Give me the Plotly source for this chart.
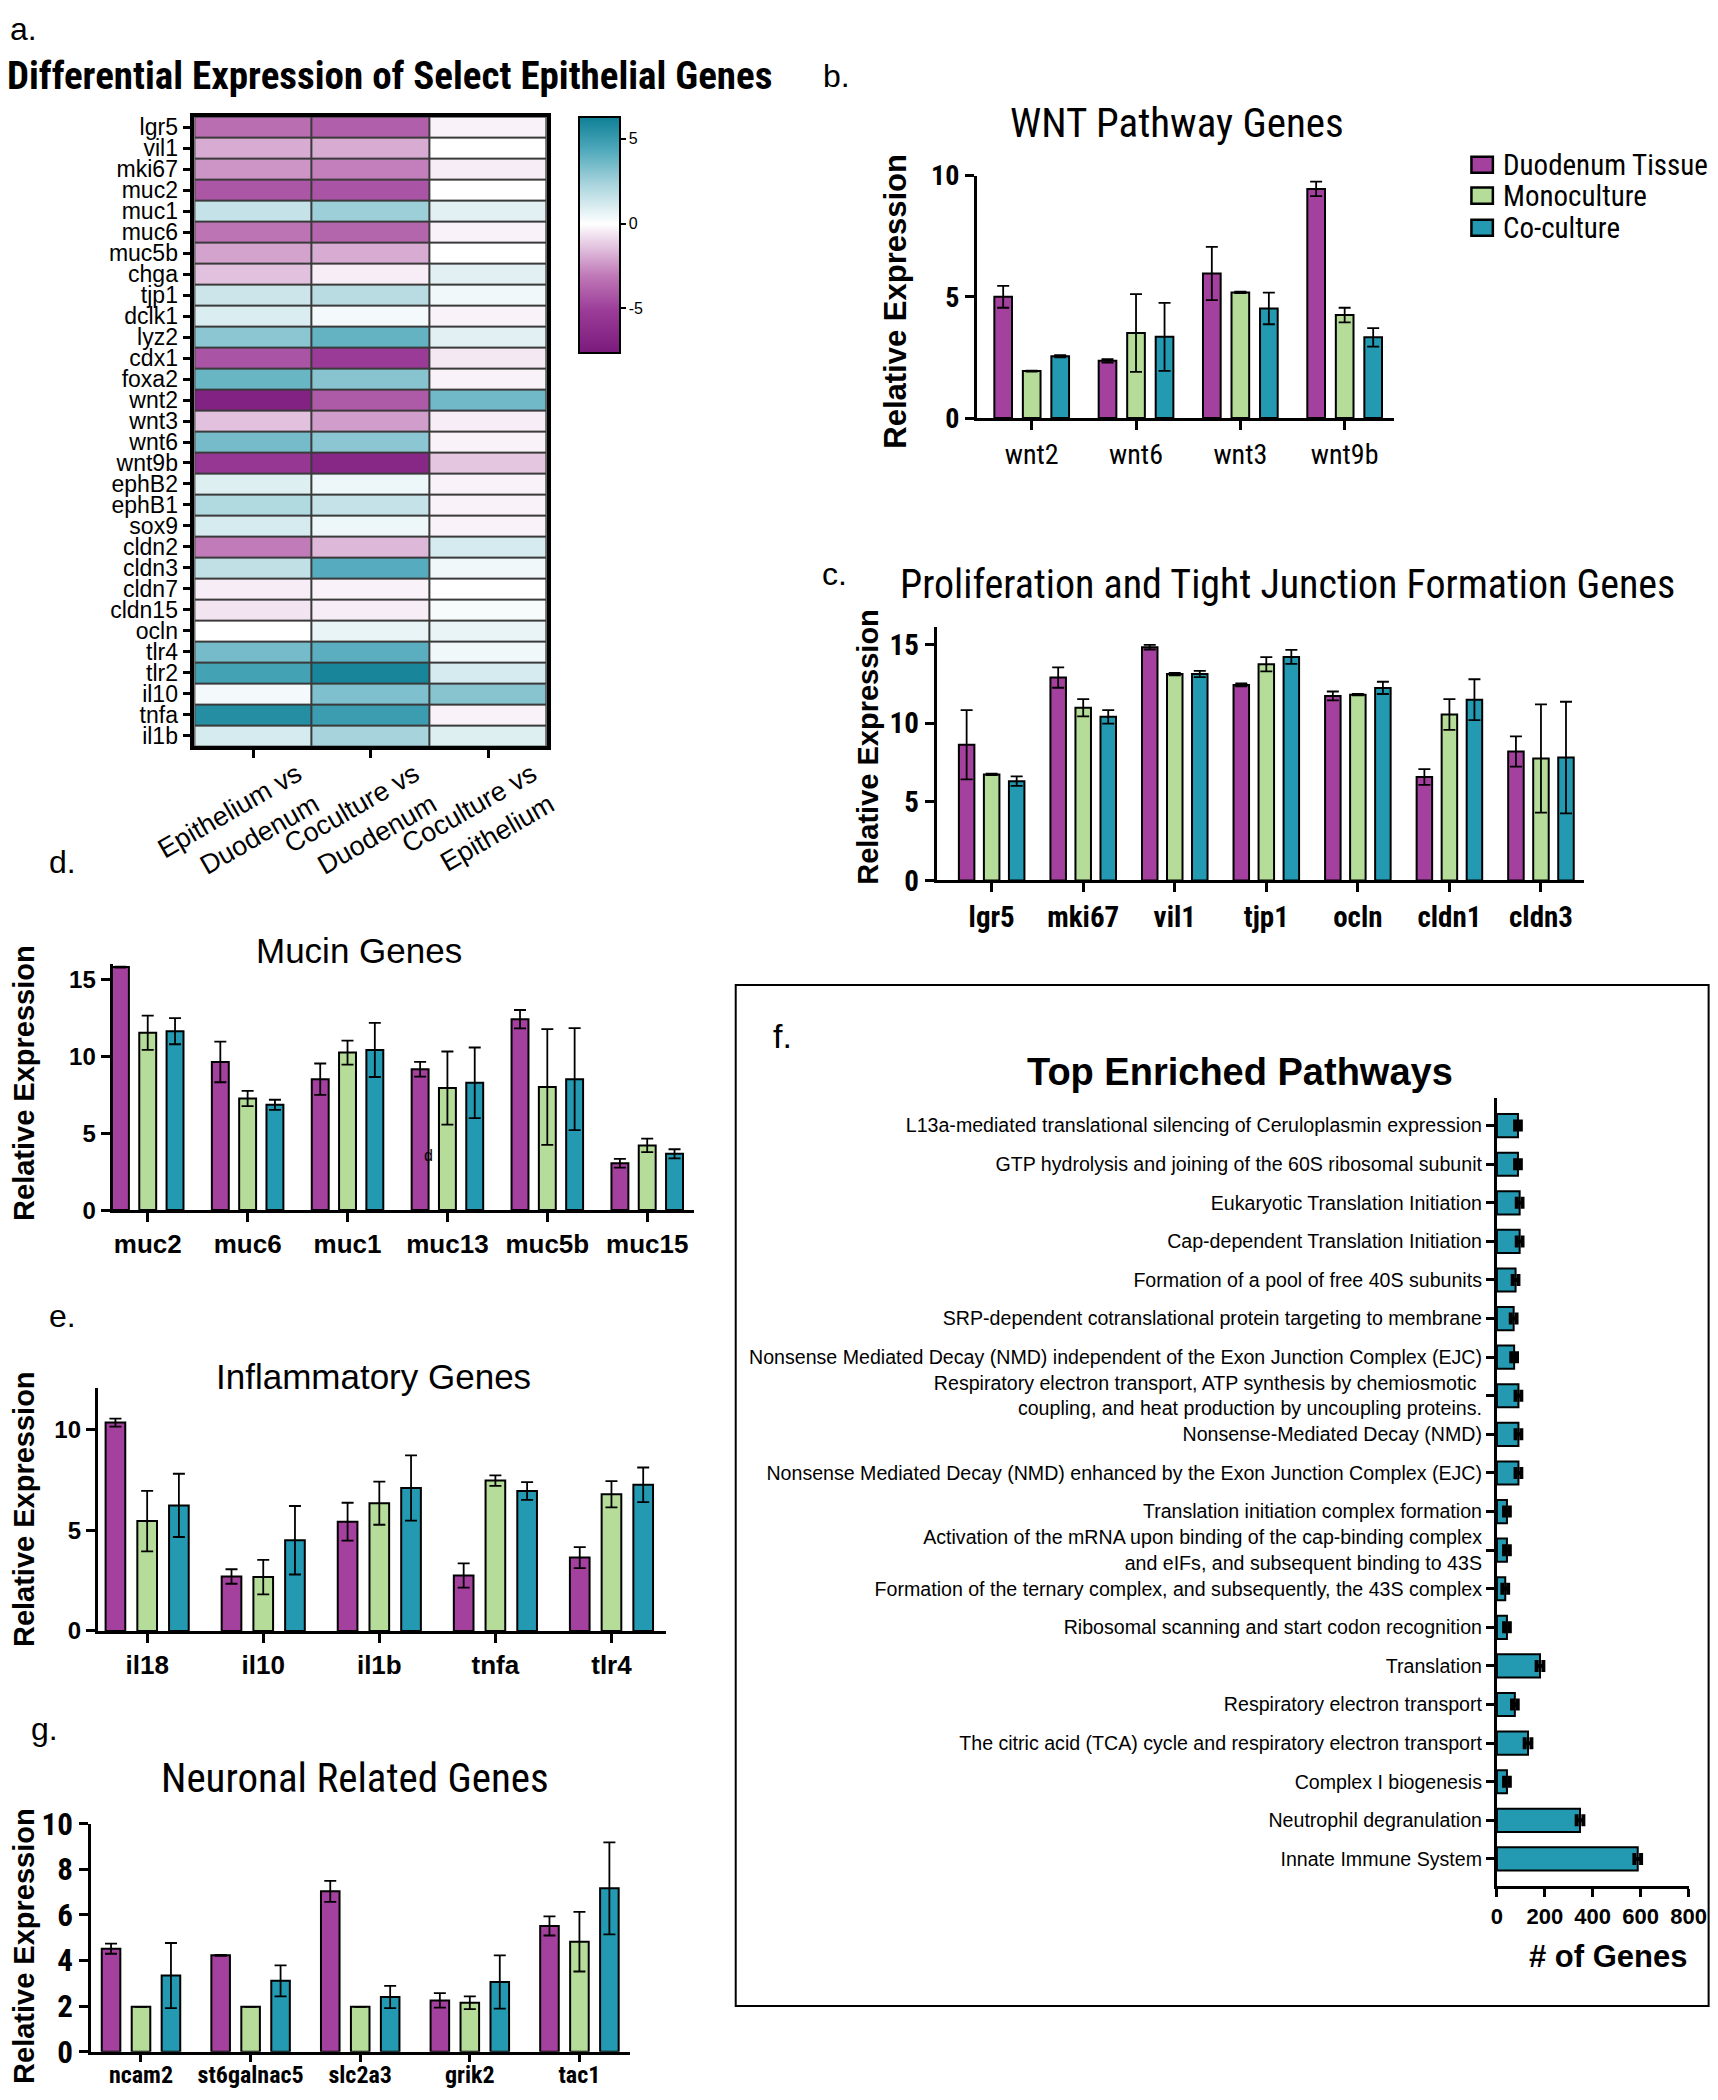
import plotly.graph_objects as go

# reference-image coordinates (1282x1568 view) are mapped to the 1718x2100 page;
# the page body adds an 8px margin, so the figure is shifted/shrunk by that amount
S = 1718 / 1282.0
OFF = 8
FW, FH = 1710, 2084


def px(x):
    return (x * S - OFF) / FW


def py(y):
    return 1 - (y * S - OFF) / FH


NARROW = "Liberation Sans Narrow, Arial Narrow, Roboto Condensed, Liberation Sans, sans-serif"
ARIAL = "Liberation Sans, Arial, Helvetica, sans-serif"

# ---------------- data ----------------
series_names = ["Duodenum Tissue", "Monoculture", "Co-culture"]
series_colors = ["#a4409e", "#b5dc98", "#2399b2"]

# (a) heatmap
heat_genes = ["lgr5", "vil1", "mki67", "muc2", "muc1", "muc6", "muc5b", "chga", "tjp1", "dclk1",
              "lyz2", "cdx1", "foxa2", "wnt2", "wnt3", "wnt6", "wnt9b", "ephB2", "ephB1", "sox9",
              "cldn2", "cldn3", "cldn7", "cldn15", "ocln", "tlr4", "tlr2", "il10", "tnfa", "il1b"]
heat_comparisons = ["Epithelium vs<br>Duodenum", "Coculture vs<br>Duodenum", "Coculture vs<br>Epithelium"]
epi_vs_duo = [-3.4, -1.9, -2.4, -4.2, 1.6, -3.2, -2.1, -1.4, 1.4, 1.0,
              3.0, -4.3, 3.8, -7.0, -1.4, 3.5, -5.5, 0.9, 2.1, 1.1,
              -3.0, 1.7, -0.4, -0.6, 0.0, 3.5, 4.7, 0.3, 5.6, 1.1]
co_vs_duo = [-3.9, -1.9, -2.9, -4.3, 2.6, -3.7, -1.9, -0.4, 1.9, 0.3,
             3.9, -5.2, 3.1, -4.1, -2.2, 3.0, -6.6, 0.5, 1.6, 0.5,
             -1.6, 4.2, -0.3, -0.4, 0.6, 4.1, 6.0, 3.3, 4.9, 2.4]
co_vs_epi = [-0.3, 0.0, -0.4, 0.0, 0.8, -0.3, 0.0, 0.8, 0.4, -0.3,
             0.8, -0.5, -0.3, 3.6, -0.4, -0.3, -1.3, -0.3, -0.3, -0.3,
             1.1, 0.4, 0.0, 0.2, 0.6, 0.4, 1.1, 3.1, -0.3, 0.9]
heat_ticks = [-5, 0, 5]

# (b) WNT pathway genes
wnt_genes = ["wnt2", "wnt6", "wnt3", "wnt9b"]
wnt_duo = [5.0, 2.36, 5.96, 9.45]
wnt_duo_err = [0.45, 0.07, 1.1, 0.3]
wnt_mono = [1.94, 3.51, 5.18, 4.25]
wnt_mono_err = [0.02, 1.6, 0.03, 0.3]
wnt_co = [2.55, 3.35, 4.52, 3.33]
wnt_co_err = [0.05, 1.4, 0.65, 0.38]

# (c) proliferation & tight junction genes
prolif_genes = ["lgr5", "mki67", "vil1", "tjp1", "ocln", "cldn1", "cldn3"]
prolif_duo = [8.62, 12.9, 14.83, 12.43, 11.73, 6.57, 8.2]
prolif_duo_err = [2.2, 0.65, 0.15, 0.1, 0.28, 0.5, 0.96]
prolif_mono = [6.74, 10.98, 13.12, 13.74, 11.81, 10.55, 7.75]
prolif_mono_err = [0.05, 0.55, 0.08, 0.45, 0.05, 0.98, 3.44]
prolif_co = [6.31, 10.4, 13.12, 14.21, 12.24, 11.49, 7.81]
prolif_co_err = [0.3, 0.43, 0.2, 0.45, 0.39, 1.3, 3.55]

# (d) mucin genes
mucin_genes = ["muc2", "muc6", "muc1", "muc13", "muc5b", "muc15"]
mucin_duo = [15.81, 9.64, 8.52, 9.16, 12.42, 3.05]
mucin_duo_err = [0.03, 1.32, 1.02, 0.48, 0.6, 0.28]
mucin_mono = [11.54, 7.26, 10.25, 7.94, 8.01, 4.21]
mucin_mono_err = [1.12, 0.5, 0.78, 2.38, 3.77, 0.44]
mucin_co = [11.64, 6.85, 10.42, 8.28, 8.52, 3.66]
mucin_co_err = [0.85, 0.33, 1.76, 2.3, 3.32, 0.3]

# (e) inflammatory genes
inflam_genes = ["il18", "il10", "il1b", "tnfa", "tlr4"]
inflam_duo = [10.34, 2.7, 5.42, 2.75, 3.64]
inflam_duo_err = [0.2, 0.36, 0.94, 0.6, 0.52]
inflam_mono = [5.45, 2.67, 6.34, 7.46, 6.78]
inflam_mono_err = [1.5, 0.86, 1.07, 0.26, 0.65]
inflam_co = [6.23, 4.5, 7.09, 6.94, 7.25]
inflam_co_err = [1.57, 1.7, 1.62, 0.44, 0.86]

# (g) neuronal related genes
neuro_genes = ["ncam2", "st6galnac5", "slc2a3", "grik2", "tac1"]
neuro_duo = [4.52, 4.23, 7.04, 2.25, 5.52]
neuro_duo_err = [0.22, 0.02, 0.46, 0.32, 0.42]
neuro_mono = [1.97, 1.97, 1.97, 2.15, 4.83]
neuro_mono_err = [0.0, 0.0, 0.0, 0.28, 1.31]
neuro_co = [3.34, 3.11, 2.4, 3.06, 7.17]
neuro_co_err = [1.43, 0.68, 0.49, 1.17, 2.02]

# (f) top enriched pathways (top to bottom)
pathways = [
    "L13a-mediated translational silencing of Ceruloplasmin expression",
    "GTP hydrolysis and joining of the 60S ribosomal subunit",
    "Eukaryotic Translation Initiation",
    "Cap-dependent Translation Initiation",
    "Formation of a pool of free 40S subunits",
    "SRP-dependent cotranslational protein targeting to membrane",
    "Nonsense Mediated Decay (NMD) independent of the Exon Junction Complex (EJC)",
    "Respiratory electron transport, ATP synthesis by chemiosmotic <br>coupling, and heat production by uncoupling proteins.",
    "Nonsense-Mediated Decay (NMD)",
    "Nonsense Mediated Decay (NMD) enhanced by the Exon Junction Complex (EJC)",
    "Translation initiation complex formation",
    "Activation of the mRNA upon binding of the cap-binding complex<br>and eIFs, and subsequent binding to 43S",
    "Formation of the ternary complex, and subsequently, the 43S complex",
    "Ribosomal scanning and start codon recognition",
    "Translation",
    "Respiratory electron transport",
    "The citric acid (TCA) cycle and respiratory electron transport",
    "Complex I biogenesis",
    "Neutrophil degranulation",
    "Innate Immune System",
]
pathway_genes = [88, 88, 95, 95, 78, 70, 72, 90, 90, 90, 42, 42, 35, 42, 180, 75, 130, 42, 347, 588]
pathway_err = [12, 12, 12, 12, 12, 12, 12, 12, 12, 12, 12, 12, 12, 12, 14, 12, 14, 12, 14, 14]

# ---------------- figure ----------------
fig = go.Figure()

AX = dict(showline=True, linecolor="black", linewidth=3, ticks="outside", ticklen=9,
          tickwidth=3, tickcolor="black", showgrid=False, zeroline=False, automargin=False)

# (a) heatmap
z = [[a, b, c] for a, b, c in zip(epi_vs_duo, co_vs_duo, co_vs_epi)]
colorscale = [
    [0.0, "#7a1a7c"],
    [0.18, "#9b3c98"],
    [0.33, "#c07ab8"],
    [0.547, "#ffffff"],
    [0.72, "#a6d3dc"],
    [0.86, "#4fa9bb"],
    [1.0, "#0e7f95"],
]
fig.add_trace(go.Heatmap(
    z=z, x=heat_comparisons, y=heat_genes, colorscale=colorscale, zmin=-7.6, zmax=6.3,
    xgap=2, ygap=2, xaxis="x", yaxis="y",
    colorbar=dict(x=px(432), xanchor="left", y=py(87), yanchor="top", len=176 * S / FH,
                  lenmode="fraction", thickness=41, outlinewidth=2, outlinecolor="black",
                  tickvals=heat_ticks, ticktext=[str(t) for t in heat_ticks], ticks="outside",
                  ticklen=5, tickwidth=2, tickcolor="black", xpad=0, ypad=0,
                  tickfont=dict(family=ARIAL, size=16, color="black")),
))
fig.add_shape(type="rect", xref="x domain", yref="y domain", x0=0, x1=1, y0=0, y1=1,
              fillcolor="#3a3a3a", line=dict(width=0), layer="below")


def add_group_panel(n, cats, groups):
    for name, color, (vals, errs) in zip(series_names, series_colors, groups):
        fig.add_trace(go.Bar(
            x=cats, y=vals, name=name, showlegend=False,
            marker=dict(color=color, line=dict(color="black", width=2)),
            error_y=dict(type="data", array=errs, visible=True, color="black", thickness=1.8, width=6),
            xaxis=f"x{n}", yaxis=f"y{n}",
        ))


add_group_panel(2, wnt_genes, [(wnt_duo, wnt_duo_err), (wnt_mono, wnt_mono_err), (wnt_co, wnt_co_err)])
add_group_panel(3, prolif_genes, [(prolif_duo, prolif_duo_err), (prolif_mono, prolif_mono_err), (prolif_co, prolif_co_err)])
add_group_panel(4, mucin_genes, [(mucin_duo, mucin_duo_err), (mucin_mono, mucin_mono_err), (mucin_co, mucin_co_err)])
add_group_panel(5, inflam_genes, [(inflam_duo, inflam_duo_err), (inflam_mono, inflam_mono_err), (inflam_co, inflam_co_err)])
add_group_panel(6, neuro_genes, [(neuro_duo, neuro_duo_err), (neuro_mono, neuro_mono_err), (neuro_co, neuro_co_err)])

# (f) horizontal bars
fig.add_trace(go.Bar(
    x=pathway_genes, y=pathways, orientation="h", width=0.6, showlegend=False,
    marker=dict(color=series_colors[2], line=dict(color="black", width=2)),
    error_x=dict(type="data", array=pathway_err, visible=True, color="black", thickness=4, width=6),
    xaxis="x7", yaxis="y7",
))


def f(family, size, bold=False):
    d = dict(family=family, size=size, color="black")
    if bold:
        d["weight"] = "bold"
    return d


layout = dict(
    width=FW, height=FH, margin=dict(l=0, r=0, t=0, b=0, pad=0, autoexpand=False),
    paper_bgcolor="white", plot_bgcolor="white",
    barmode="group", bargap=0.18, bargroupgap=0.38, showlegend=False,
    # heatmap
    xaxis=dict(AX, domain=[px(145), px(408)], anchor="y", mirror=True, linewidth=3.5,
               range=[-0.5, 2.5], tickangle=-30, tickfont=f(ARIAL, 27), ticklen=8,
               ticklabelshift=44, ticklabelstandoff=-10),
    yaxis=dict(AX, domain=[py(557), py(87)], anchor="x", mirror=True, linewidth=3.5,
               range=[29.5, -0.5], tickmode="array", tickvals=heat_genes, ticktext=heat_genes,
               tickfont=f(ARIAL, 23), ticklen=8),
    # b
    xaxis2=dict(AX, domain=[px(729), px(1040)], anchor="y2", range=[-0.525, 3.47],
                tickfont=f(NARROW, 28), tickangle=0),
    yaxis2=dict(AX, domain=[py(312), py(131)], anchor="x2", range=[0, 10],
                tickvals=[0, 5, 10], tickfont=f(NARROW, 28, True)),
    # c
    xaxis3=dict(AX, domain=[px(699), px(1182)], anchor="y3", range=[-0.6, 6.47],
                tickfont=f(NARROW, 29, True), tickangle=0),
    yaxis3=dict(AX, domain=[py(657), py(468)], anchor="x3", range=[0, 16.1],
                tickvals=[0, 5, 10, 15], tickfont=f(NARROW, 29, True)),
    # d
    xaxis4=dict(AX, domain=[px(84), px(518)], anchor="y4", range=[-0.352, 5.47],
                tickfont=f(ARIAL, 26, True), tickangle=0),
    yaxis4=dict(AX, domain=[py(903), py(719.5)], anchor="x4", range=[0, 16],
                tickvals=[0, 5, 10, 15], tickfont=f(ARIAL, 24, True)),
    # e
    xaxis5=dict(AX, domain=[px(73), px(497)], anchor="y5", range=[-0.425, 4.47],
                tickfont=f(ARIAL, 26, True), tickangle=0),
    yaxis5=dict(AX, domain=[py(1217), py(1036)], anchor="x5", range=[0, 12.04],
                tickvals=[0, 5, 10], tickfont=f(ARIAL, 24, True)),
    # g
    xaxis6=dict(AX, domain=[px(68), px(470)], anchor="y6", range=[-0.455, 4.46],
                tickfont=f(NARROW, 24, True), tickangle=0, ticklen=7, ticklabelstandoff=-7),
    yaxis6=dict(AX, domain=[py(1531), py(1361)], anchor="x6", range=[0, 10],
                tickvals=[0, 2, 4, 6, 8, 10], tickfont=f(NARROW, 31, True)),
    # f
    xaxis7=dict(AX, domain=[px(1117), px(1260)], anchor="y7", range=[0, 800],
                tickvals=[0, 200, 400, 600, 800], tickfont=f(ARIAL, 22, True), ticklen=8,
                tickangle=0),
    yaxis7=dict(AX, domain=[py(1407.6), py(819.5)], anchor="x7", range=[19.71, -0.71],
                tickmode="array", tickvals=pathways, ticktext=pathways,
                tickfont=f(ARIAL, 19.6), ticklen=8),
)
fig.update_layout(**layout)

ann = []


def text(x, y, s, font, xanchor="center", yanchor="middle", angle=0):
    ann.append(dict(x=px(x), y=py(y), xref="paper", yref="paper", text=s, showarrow=False,
                    xanchor=xanchor, yanchor=yanchor, textangle=angle, font=font))


# panel letters
text(6, 22, "a.", f(ARIAL, 32), xanchor="left")
text(613, 57, "b.", f(ARIAL, 32), xanchor="left")
text(612, 428, "c.", f(ARIAL, 32), xanchor="left")
text(35, 643, "d.", f(ARIAL, 32), xanchor="left")
text(35, 982, "e.", f(ARIAL, 32), xanchor="left")
text(575, 773, "f.", f(ARIAL, 34), xanchor="left")
text(22, 1290, "g.", f(ARIAL, 32), xanchor="left")

# titles
text(4, 57, "Differential Expression of Select Epithelial Genes", f(NARROW, 39, True), xanchor="left")
text(878, 92, "WNT Pathway Genes", f(NARROW, 41))
text(961, 436, "Proliferation and Tight Junction Formation Genes", f(NARROW, 40))
text(268, 709, "Mucin Genes", f(ARIAL, 35))
text(279, 1027, "Inflammatory Genes", f(ARIAL, 35))
text(265, 1327, "Neuronal Related Genes", f(NARROW, 41))
text(925, 800, "Top Enriched Pathways", f(ARIAL, 38, True))
text(1200, 1460, "# of Genes", f(ARIAL, 31, True))

# y axis titles
text(668, 225, "Relative Expression", f(ARIAL, 31, True), angle=-90)
text(648, 557, "Relative Expression", f(ARIAL, 29, True), angle=-90)
text(18, 808, "Relative Expression", f(ARIAL, 29, True), angle=-90)
text(18, 1126, "Relative Expression", f(ARIAL, 29, True), angle=-90)
text(18, 1452, "Relative Expression", f(ARIAL, 29, True), angle=-90)

# stray glyph in the original panel d
text(320, 862, "d", f(ARIAL, 16))

# legend (manual)
legend_rows = [123, 146, 170]
for name, color, yy in zip(series_names, series_colors, legend_rows):
    fig.add_shape(type="rect", xref="paper", yref="paper", x0=px(1098), x1=px(1114),
                  y0=py(yy + 6), y1=py(yy - 6), fillcolor=color, line=dict(color="black", width=2.5))
    text(1120, yy, name, f(NARROW, 29), xanchor="left")

# panel f frame
fig.add_shape(type="rect", xref="paper", yref="paper", x0=px(549), x1=px(1275), y0=py(1497), y1=py(735),
              line=dict(color="black", width=2), fillcolor="rgba(0,0,0,0)", layer="below")

fig.update_layout(annotations=ann)
fig.write_html("out.html")
